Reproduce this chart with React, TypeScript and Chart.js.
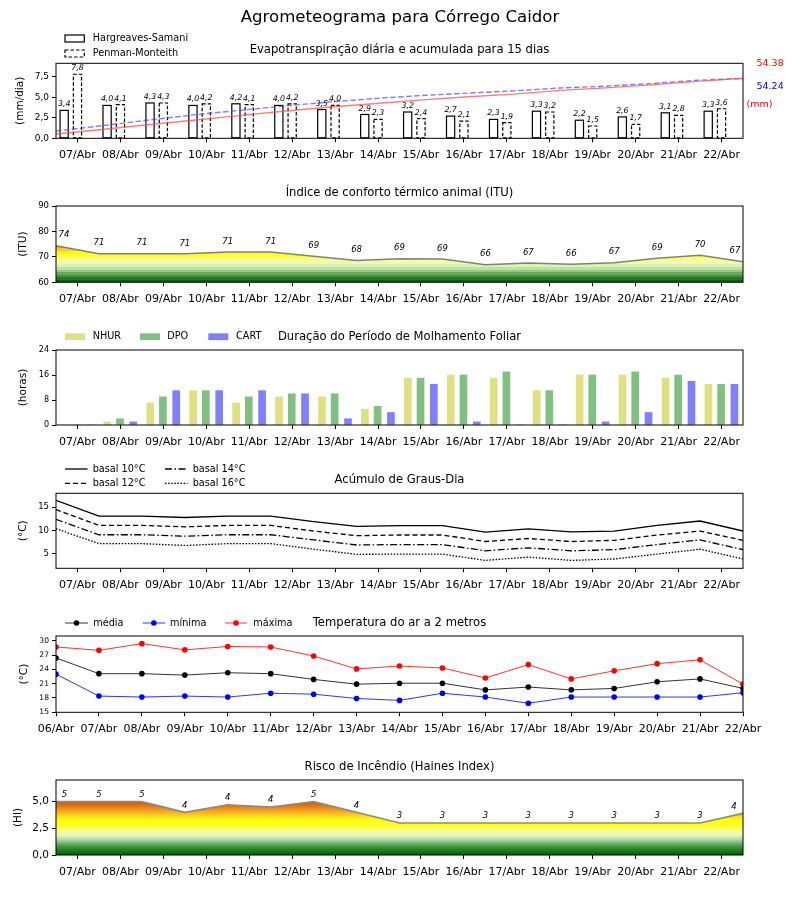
import React, { useEffect, useRef } from 'react';
import { Chart, registerables } from 'chart.js';

Chart.register(...registerables);

const FONT_FAMILY = '"DejaVu Sans", "Liberation Sans", sans-serif';
Chart.defaults.font.family = FONT_FAMILY;
Chart.defaults.color = '#000';

// ---------------- data ----------------
const DAYS = ['07/Abr', '08/Abr', '09/Abr', '10/Abr', '11/Abr', '12/Abr', '13/Abr', '14/Abr', '15/Abr', '16/Abr', '17/Abr', '18/Abr', '19/Abr', '20/Abr', '21/Abr', '22/Abr'];
const TEMP_DAYS = ['06/Abr', '07/Abr', '08/Abr', '09/Abr', '10/Abr', '11/Abr', '12/Abr', '13/Abr', '14/Abr', '15/Abr', '16/Abr', '17/Abr', '18/Abr', '19/Abr', '20/Abr', '21/Abr', '22/Abr'];

// Evapotranspiração (mm/dia)
const ET_HS = [3.4, 4.0, 4.3, 4.0, 4.2, 4.0, 3.5, 2.9, 3.2, 2.7, 2.3, 3.3, 2.2, 2.6, 3.1, 3.3];
const ET_PM = [7.8, 4.1, 4.3, 4.2, 4.1, 4.2, 4.0, 2.3, 2.4, 2.1, 1.9, 3.2, 1.5, 1.7, 2.8, 3.6];
// acumulada (mm)
const ACC_HS = [3.9, 8.0, 12.3, 16.4, 20.6, 24.7, 28.4, 31.5, 34.8, 37.6, 40.0, 43.4, 45.7, 48.4, 51.6, 54.38];
const ACC_PM = [6.6, 11.4, 16.4, 21.2, 25.3, 29.3, 33.0, 36.2, 38.8, 41.0, 43.0, 45.6, 47.2, 49.6, 52.6, 54.24];
const ACC_HS_LABEL = '54.38';
const ACC_PM_LABEL = '54.24';
const ET_Y_TICKS = [0, 2.5, 5, 7.5];

// ITU
const ITU = [74.4, 71.25, 71.25, 71.2, 71.9, 71.9, 70.2, 68.6, 69.3, 69.2, 66.9, 67.6, 67.1, 67.7, 69.5, 70.6, 68.1];
const ITU_LABELS = ['74', '71', '71', '71', '71', '71', '69', '68', '69', '69', '66', '67', '66', '67', '69', '70', '67'];
const ITU_Y_TICKS = [60, 70, 80, 90];

// Molhamento foliar (horas)
const NHUR = [0, 1, 7, 11, 7, 9, 9, 5, 15, 16, 15, 11, 16, 16, 15, 13];
const DPO = [0, 2, 9, 11, 9, 10, 10, 6, 15, 16, 17, 11, 16, 17, 16, 13];
const CART = [0, 1, 11, 11, 11, 10, 2, 4, 13, 1, 0, 0, 1, 4, 14, 13];
const MOLH_Y_TICKS = [0, 8, 16, 24];

// Graus-dia
const GD10 = [16.5, 13.1, 13.1, 12.8, 13.1, 13.1, 11.9, 10.9, 11.05, 11.05, 9.65, 10.35, 9.7, 9.9, 11.1, 12.05, 9.9];
const GD12 = [14.5, 11.1, 11.1, 10.8, 11.1, 11.1, 9.9, 8.9, 9.05, 9.05, 7.65, 8.3, 7.65, 7.9, 9.05, 9.9, 7.9];
const GD14 = [12.4, 9.1, 9.1, 8.8, 9.1, 9.1, 8.0, 6.9, 7.0, 7.0, 5.65, 6.3, 5.65, 5.9, 7.0, 8.0, 5.9];
const GD16 = [10.4, 7.2, 7.2, 6.8, 7.2, 7.2, 6.0, 4.9, 4.95, 4.95, 3.6, 4.3, 3.6, 3.9, 4.95, 6.0, 3.9];
const GD_Y_TICKS = [5, 10, 15];

// Temperatura (°C)
const TMED = [26.4, 23.1, 23.1, 22.8, 23.3, 23.1, 21.9, 20.9, 21.1, 21.1, 19.7, 20.3, 19.7, 20.0, 21.4, 22.0, 20.0];
const TMIN = [23.0, 18.4, 18.2, 18.4, 18.2, 19.0, 18.8, 17.9, 17.5, 19.0, 18.2, 16.9, 18.2, 18.2, 18.2, 18.2, 19.1];
const TMAX = [28.7, 28.0, 29.4, 28.1, 28.8, 28.7, 26.8, 24.1, 24.7, 24.3, 22.2, 25.0, 22.0, 23.7, 25.2, 26.0, 20.9];
const TEMP_Y_TICKS = [15, 18, 21, 24, 27, 30];

// Haines
const HAINES = [5.0, 5.0, 5.0, 4.0, 4.7, 4.5, 5.0, 4.0, 3.0, 3.0, 3.0, 3.0, 3.0, 3.0, 3.0, 3.0, 3.9];
const HAINES_LABELS = ['5', '5', '5', '4', '4', '4', '5', '4', '3', '3', '3', '3', '3', '3', '3', '3', '4'];
const HI_Y_TICKS = [0, 2.5, 5];

// ---------------- styling / layout ----------------
const LEFT = 56;
const RIGHT_PAD = 57;
const XH = 24;

type Geom = { top: number; height: number; plotTop: number; plotBottom: number };
const GEOM: Geom[] = [
  { top: 0, height: 172, plotTop: 63.3, plotBottom: 138.3 },
  { top: 172, height: 144, plotTop: 206, plotBottom: 282.3 },
  { top: 316, height: 139, plotTop: 350, plotBottom: 425 },
  { top: 455, height: 150, plotTop: 493.3, plotBottom: 568.3 },
  { top: 605, height: 145, plotTop: 636, plotBottom: 712.3 },
  { top: 750, height: 150, plotTop: 780, plotBottom: 855 },
];

const ITU_BANDS: [number, string][] = [
  [60, '#0b620b'], [61, '#217821'], [62, '#3f8f3f'], [63, '#66aa5a'], [64, '#95c785'],
  [65, '#bfe0a5'], [66, '#dff2b5'], [67, '#eefab0'], [68, '#f5fd9a'], [69, '#fafe70'],
  [70, '#ffff30'], [71, '#ffff00'], [72.5, '#f9c83a'], [73.5, '#f0a83a'], [90, '#f0a83a'],
];
const HI_STOPS: [number, string][] = [
  [0, '#005f00'], [0.4, '#1a7a1a'], [0.9, '#4f9f4f'], [1.4, '#a6d69e'], [1.8, '#e6f6c0'],
  [2.3, '#f8ff90'], [2.7, '#ffff20'], [3.3, '#ffff10'], [3.7, '#ffd21a'], [4.1, '#f5a623'],
  [4.5, '#e5801a'], [5.0, '#c85508'], [7, '#c05000'],
];

const comma = (v: number, d = 1) => v.toFixed(d).replace('.', ',');
const font = (size: number, italic = false) => `${italic ? 'italic ' : ''}${size}px ${FONT_FAMILY}`;

function txt(ctx: CanvasRenderingContext2D, s: string, x: number, y: number, size: number, o: any = {}) {
  ctx.save();
  ctx.font = font(size, o.italic);
  ctx.fillStyle = o.color || '#000';
  ctx.textAlign = o.align || 'left';
  ctx.textBaseline = 'middle';
  if (o.rot) {
    ctx.translate(x, y);
    ctx.rotate(o.rot);
    ctx.fillText(s, 0, 0);
  } else ctx.fillText(s, x, y);
  ctx.restore();
}

const tickGrid = { display: true, drawOnChartArea: false, drawTicks: true, tickLength: 4, color: '#000', lineWidth: 1, offset: false };

function xAxis(labels: string[], offset: number) {
  return {
    type: 'linear', min: 0, max: 16, offset: false,
    afterBuildTicks: (s: any) => { s.ticks = labels.map((_, i) => ({ value: i + offset })); },
    afterFit: (s: any) => { s.height = XH; },
    ticks: {
      autoSkip: false, maxRotation: 0, minRotation: 0, padding: 6.5, color: '#000',
      font: { size: 11, family: FONT_FAMILY },
      callback: (_v: any, i: number) => labels[i],
    },
    grid: tickGrid,
    border: { display: false },
  };
}

function yAxis(min: number, max: number, ticks: number[], fmt: (v: number) => string, size: number) {
  return {
    type: 'linear', min, max, position: 'left',
    afterBuildTicks: (s: any) => { s.ticks = ticks.map((v) => ({ value: v })); },
    afterFit: (s: any) => { s.width = LEFT; },
    ticks: { padding: 3, color: '#000', font: { size, family: FONT_FAMILY }, callback: (_v: any, i: number) => fmt(ticks[i]) },
    grid: tickGrid,
    border: { display: false },
  };
}

function bandGradient(chart: any, bands: [number, string][], hard: boolean) {
  const { ctx, chartArea, scales } = chart;
  if (!chartArea) return 'rgba(0,0,0,0)';
  const y = scales.y;
  const y0 = y.getPixelForValue(y.min);
  const y1 = y.getPixelForValue(y.max);
  const g = ctx.createLinearGradient(0, y0, 0, y1);
  const f = (v: number) => Math.min(1, Math.max(0, (v - y.min) / (y.max - y.min)));
  for (let k = 0; k < bands.length; k++) {
    const [v, c] = bands[k];
    g.addColorStop(f(v), c);
    if (hard && k + 1 < bands.length) g.addColorStop(f(bands[k + 1][0]), c);
  }
  return g;
}

function deco(draw: (chart: any, ctx: CanvasRenderingContext2D, a: any) => void) {
  return {
    id: 'deco',
    afterDraw(chart: any) {
      const ctx = chart.ctx;
      const a = chart.chartArea;
      ctx.save();
      ctx.strokeStyle = '#000';
      ctx.lineWidth = 1;
      ctx.setLineDash([]);
      ctx.strokeRect(a.left, a.top, a.right - a.left, a.bottom - a.top);
      ctx.restore();
      draw(chart, ctx, a);
    },
  };
}

const barOutline = {
  id: 'barOutline',
  afterDatasetDraw(chart: any, args: any) {
    const ds = chart.data.datasets[args.index];
    if (!ds.outline) return;
    const ctx = chart.ctx;
    ctx.save();
    ctx.strokeStyle = '#000';
    ctx.lineWidth = 1.2;
    ctx.setLineDash(ds.outline === 'dash' ? [3.5, 2] : []);
    for (const el of args.meta.data) {
      const p = el.getProps(['x', 'y', 'base', 'width'], true);
      ctx.strokeRect(p.x - p.width / 2, p.y, p.width, p.base - p.y);
    }
    ctx.restore();
  },
};

const TITLE_SIZE = 11.6;
const LEG_SIZE = 9.7;
const YT_SIZE = 10.5;

function titleAndY(ctx: CanvasRenderingContext2D, a: any, title: string, ylab: string, yx: number) {
  txt(ctx, title, (a.left + a.right) / 2, a.top - 13, TITLE_SIZE, { align: 'center' });
  txt(ctx, ylab, yx, (a.top + a.bottom) / 2, YT_SIZE, { align: 'center', rot: -Math.PI / 2 });
}

function pts(arr: number[], offset = 0) {
  return arr.map((v, i) => ({ x: i + offset, y: v }));
}

const barCommon = { grouped: false, barPercentage: 1, categoryPercentage: 1, borderWidth: 0 };

// ---------------- panel builders ----------------
function buildET() {
  const bw = 8.2;
  return {
    type: 'bar',
    data: {
      datasets: [
        { type: 'line', label: 'HS acumulada', yAxisID: 'y2', data: ACC_HS.map((v, i) => ({ x: (i * 16) / 15, y: v })), borderColor: 'rgba(255,70,70,0.7)', borderWidth: 1.4, pointRadius: 0, order: 0 },
        { type: 'line', label: 'PM acumulada', yAxisID: 'y2', data: ACC_PM.map((v, i) => ({ x: (i * 16) / 15, y: v })), borderColor: 'rgba(70,70,255,0.7)', borderDash: [5.5, 2.5], borderWidth: 1.4, pointRadius: 0, order: 0 },
        { type: 'bar', label: 'Hargreaves-Samani', outline: 'solid', data: pts(ET_HS, 0.19), backgroundColor: '#fff', barThickness: bw, maxBarThickness: bw, order: 1, ...barCommon },
        { type: 'bar', label: 'Penman-Monteith', outline: 'dash', data: pts(ET_PM, 0.5), backgroundColor: '#fff', barThickness: bw, maxBarThickness: bw, order: 1, ...barCommon },
      ],
    },
    options: {
      scales: {
        x: xAxis(DAYS, 0.5),
        y: yAxis(0, 9.13, ET_Y_TICKS, (v) => comma(v), 9),
        y2: { type: 'linear', display: false, min: 0, max: 67.98 },
      },
    },
    plugins: [
      barOutline,
      deco((chart, ctx, a) => {
        txt(ctx, 'Agrometeograma para Córrego Caidor', 400, 18, 16.6, { align: 'center' });
        titleAndY(ctx, a, 'Evapotranspiração diária e acumulada para 15 dias', '(mm/dia)', 20);
        [2, 3].forEach((di) => {
          const meta = chart.getDatasetMeta(di);
          const vals = di === 2 ? ET_HS : ET_PM;
          meta.data.forEach((el: any, i: number) => {
            txt(ctx, comma(vals[i]), el.x, el.y - 6, 7.8, { align: 'center', italic: true });
          });
        });
        txt(ctx, ACC_HS_LABEL, a.right + 13.5, a.top + 0.7, 9.5, { color: '#ff0000' });
        txt(ctx, ACC_PM_LABEL, a.right + 13.5, a.top + 23.4, 9.5, { color: '#0000ff' });
        txt(ctx, '(mm)', a.right + 3.5, a.top + 41.7, 9.5, { color: '#ff0000' });
        // legend
        ctx.save();
        ctx.fillStyle = '#fff';
        ctx.strokeStyle = '#000';
        ctx.lineWidth = 1.2;
        ctx.fillRect(65, a.top - 28.3, 19.3, 7);
        ctx.strokeRect(65, a.top - 28.3, 19.3, 7);
        ctx.setLineDash([3.5, 2]);
        ctx.strokeRect(65, a.top - 13.3, 19.3, 7);
        ctx.restore();
        txt(ctx, 'Hargreaves-Samani', 92.7, a.top - 24.6, LEG_SIZE);
        txt(ctx, 'Penman-Monteith', 92.7, a.top - 9.6, LEG_SIZE);
      }),
    ],
  };
}

function buildITU() {
  return {
    type: 'line',
    data: {
      datasets: [
        { label: 'ITU', data: pts(ITU), borderColor: '#808080', borderWidth: 1.5, pointRadius: 0, fill: 'start', backgroundColor: (c: any) => bandGradient(c.chart, ITU_BANDS, true) },
      ],
    },
    options: { scales: { x: xAxis(DAYS, 0.5), y: yAxis(60, 90, ITU_Y_TICKS, (v) => String(v), 8.5) } },
    plugins: [
      deco((chart, ctx, a) => {
        titleAndY(ctx, a, 'Índice de conforto térmico animal (ITU)', '(ITU)', 23.5);
        chart.getDatasetMeta(0).data.forEach((el: any, i: number) => {
          const x = Math.min(a.right - 8, Math.max(a.left + 8, el.x));
          txt(ctx, ITU_LABELS[i], x, el.y - 10.5, 8.5, { align: 'center', italic: true });
        });
      }),
    ],
  };
}

function buildMolh() {
  const bw = 7;
  const mk = (label: string, arr: number[], off: number, color: string) => ({ type: 'bar', label, data: pts(arr, 0.5 + off), backgroundColor: color, barThickness: bw, maxBarThickness: bw, ...barCommon });
  return {
    type: 'bar',
    data: {
      datasets: [
        mk('NHUR', NHUR, -0.305, '#e0e080'),
        mk('DPO', DPO, -0.01, '#80c080'),
        mk('CART', CART, 0.3, '#8080ff'),
      ],
    },
    options: { scales: { x: xAxis(DAYS, 0.5), y: yAxis(0, 24, MOLH_Y_TICKS, (v) => String(v), 8) } },
    plugins: [
      deco((chart, ctx, a) => {
        titleAndY(ctx, a, 'Duração do Período de Molhamento Foliar', '(horas)', 23.5);
        const items: [string, string, number, number][] = [['NHUR', '#e0e080', 65, 92.7], ['DPO', '#80c080', 140, 167.3], ['CART', '#8080ff', 208.3, 236]];
        items.forEach(([t, c, rx, tx]) => {
          ctx.fillStyle = c;
          ctx.fillRect(rx, a.top - 16.7, 20, 6.8);
          txt(ctx, t, tx, a.top - 13.3, LEG_SIZE);
        });
      }),
    ],
  };
}

function buildGD() {
  const series: [string, number[], number[]][] = [
    ['basal 10°C', GD10, []],
    ['basal 12°C', GD12, [5, 3]],
    ['basal 14°C', GD14, [7, 2.5, 1.5, 2.5]],
    ['basal 16°C', GD16, [1.5, 1.6]],
  ];
  return {
    type: 'line',
    data: {
      datasets: series.map(([label, arr, dash]) => ({ label, data: pts(arr), borderColor: '#000', borderWidth: 1.3, borderDash: dash, pointRadius: 0 })),
    },
    options: { scales: { x: xAxis(DAYS, 0.5), y: yAxis(1.9, 18.0, GD_Y_TICKS, (v) => String(v), 8.5) } },
    plugins: [
      deco((chart, ctx, a) => {
        titleAndY(ctx, a, 'Acúmulo de Graus-Dia', '(°C)', 23.5);
        const pos: [number, number, number][] = [[65, 92.7, a.top - 24.3], [65, 92.7, a.top - 10], [165, 192.7, a.top - 24.3], [165, 192.7, a.top - 10]];
        [0, 1, 2, 3].forEach((k) => {
          const [sx, tx, y] = pos[k];
          ctx.save();
          ctx.strokeStyle = '#000';
          ctx.lineWidth = 1.3;
          ctx.setLineDash(series[k][2]);
          ctx.beginPath();
          ctx.moveTo(sx, y);
          ctx.lineTo(sx + 22.5, y);
          ctx.stroke();
          ctx.restore();
          txt(ctx, series[k][0], tx, y, LEG_SIZE);
        });
      }),
    ],
  };
}

function buildTemp() {
  const series: [string, number[], string, string][] = [
    ['média', TMED, 'rgba(0,0,0,0.8)', '#000'],
    ['mínima', TMIN, 'rgba(0,0,255,0.8)', '#0000ff'],
    ['máxima', TMAX, 'rgba(255,0,0,0.8)', '#ff0000'],
  ];
  return {
    type: 'line',
    data: {
      datasets: series.map(([label, arr, lc, pc]) => ({ label, data: pts(arr), borderColor: lc, borderWidth: 1, pointRadius: 2.8, pointBackgroundColor: pc, pointBorderWidth: 0 })),
    },
    options: { scales: { x: xAxis(TEMP_DAYS, 0), y: yAxis(15, 31, TEMP_Y_TICKS, (v) => String(v), 7.6) } },
    plugins: [
      deco((chart, ctx, a) => {
        titleAndY(ctx, a, 'Temperatura do ar a 2 metros', '(°C)', 24);
        const lx: [number, number, number][] = [[65, 88, 93.3], [142.7, 165, 170], [225, 247, 253.3]];
        series.forEach(([label, , lc, pc], k) => {
          const [x0, x1, tx] = lx[k];
          const y = a.top - 13;
          ctx.save();
          ctx.strokeStyle = lc;
          ctx.lineWidth = 1;
          ctx.beginPath();
          ctx.moveTo(x0, y);
          ctx.lineTo(x1, y);
          ctx.stroke();
          ctx.fillStyle = pc;
          ctx.beginPath();
          ctx.arc((x0 + x1) / 2, y, 2.8, 0, Math.PI * 2);
          ctx.fill();
          ctx.restore();
          txt(ctx, label, tx, y, LEG_SIZE);
        });
      }),
    ],
  };
}

function buildHaines() {
  return {
    type: 'line',
    data: {
      datasets: [
        { label: 'Haines', data: pts(HAINES), borderColor: '#8a8a8a', borderWidth: 1.6, pointRadius: 0, fill: 'start', backgroundColor: (c: any) => bandGradient(c.chart, HI_STOPS, false) },
      ],
    },
    options: { scales: { x: xAxis(DAYS, 0.5), y: yAxis(0, 7.03, HI_Y_TICKS, (v) => comma(v), 10.5) } },
    plugins: [
      deco((chart, ctx, a) => {
        titleAndY(ctx, a, 'Risco de Incêndio (Haines Index)', '(HI)', 18);
        chart.getDatasetMeta(0).data.forEach((el: any, i: number) => {
          const x = Math.min(a.right - 9, Math.max(a.left + 8.5, el.x));
          txt(ctx, HAINES_LABELS[i], x, el.y - 6.8, 8.5, { align: 'center', italic: true });
        });
      }),
    ],
  };
}

// ---------------- components ----------------
function Panel({ geom, build }: { geom: Geom; build: () => any }) {
  const ref = useRef<HTMLCanvasElement | null>(null);
  useEffect(() => {
    const cfg: any = build();
    cfg.options = {
      ...cfg.options,
      animation: false,
      responsive: false,
      maintainAspectRatio: false,
      events: [],
      layout: {
        padding: {
          left: 0,
          right: RIGHT_PAD,
          top: geom.plotTop - geom.top,
          bottom: geom.height - (geom.plotBottom - geom.top) - XH,
        },
      },
      plugins: { legend: { display: false }, tooltip: { enabled: false }, title: { display: false } },
    };
    const chart = new Chart(ref.current as HTMLCanvasElement, cfg);
    return () => chart.destroy();
  }, []);
  return (
    <canvas
      ref={ref}
      width={800}
      height={geom.height}
      style={{ position: 'absolute', left: 0, top: geom.top, width: 800, height: geom.height }}
    />
  );
}

export default function App() {
  const builders = [buildET, buildITU, buildMolh, buildGD, buildTemp, buildHaines];
  return (
    <div style={{ position: 'absolute', left: 0, top: 0, width: 800, height: 900, background: '#fff' }}>
      {builders.map((b, i) => (
        <Panel key={i} geom={GEOM[i]} build={b} />
      ))}
    </div>
  );
}
